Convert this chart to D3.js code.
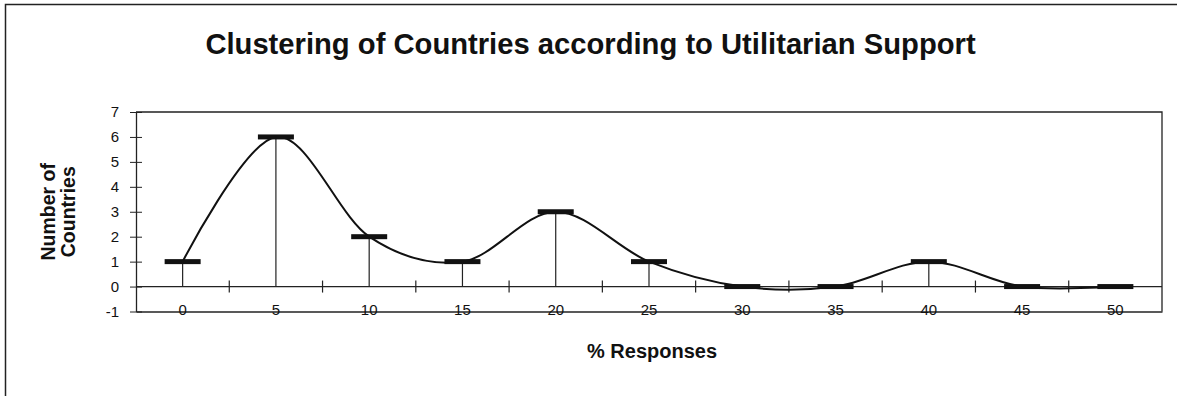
<!DOCTYPE html>
<html>
<head>
<meta charset="utf-8">
<script src="https://cdn.jsdelivr.net/npm/d3@7"></script>
<style>
  html, body { margin: 0; padding: 0; background: #fff; }
  svg { display: block; font-family: "Liberation Sans", Arial, Helvetica, sans-serif; }
</style>
</head>
<body>
<svg id="chart" width="1177" height="396"></svg>
<script>
// ---- data ----
const categories = ["0", "5", "10", "15", "20", "25", "30", "35", "40", "45", "50"];
const countries = [1, 6, 2, 1, 3, 1, 0, 0, 1, 0, 0];
const yTicks = [-1, 0, 1, 2, 3, 4, 5, 6, 7];
const titleText = "Clustering of Countries according to Utilitarian Support";
const yTitleLines = ["Number of", "Countries"];
const xTitleText = "% Responses";

// ---- layout ----
const plot = { left: 136, right: 1162, top: 112, bottom: 311.5 };
const ink = "#111";

const svg = d3.select("#chart");

// outer frame (extends beyond the picture on right/bottom)
svg.append("rect")
  .attr("x", 5.5).attr("y", 4.5)
  .attr("width", 1300).attr("height", 500)
  .attr("fill", "none").attr("stroke", "#222").attr("stroke-width", 1.5);

const x = d3.scaleBand().domain(categories).range([plot.left, plot.right]).padding(0);
const y = d3.scaleLinear().domain([-1, 7]).range([plot.bottom, plot.top]);
const cx = d => x(d) + x.bandwidth() / 2;

// plot box: top and right borders
svg.append("path")
  .attr("d", `M${plot.left},${plot.top}H${plot.right}V${plot.bottom}`)
  .attr("fill", "none").attr("stroke", "#222").attr("stroke-width", 1.3);

// y axis
const yAxis = d3.axisLeft(y).tickValues(yTicks).tickSizeInner(6).tickSizeOuter(0).tickPadding(11)
  .tickFormat(d => String(d));
const gy = svg.append("g").attr("transform", `translate(${plot.left},0)`).call(yAxis)
  .attr("font-size", 15).attr("font-family", "'Liberation Sans', Arial, sans-serif");
gy.select(".domain").attr("stroke", "#222").attr("stroke-width", 1.3);
gy.selectAll(".tick line").attr("x1", 6).attr("x2", -6).attr("stroke", "#222");
gy.selectAll(".tick text").attr("fill", ink);

// x axis at the bottom (y = -1) with labels
const xAxis = d3.axisBottom(x).tickSize(0).tickSizeOuter(0).tickPadding(-7.5);
const gx = svg.append("g").attr("transform", `translate(0,${plot.bottom})`).call(xAxis)
  .attr("font-size", 15).attr("font-family", "'Liberation Sans', Arial, sans-serif");
gx.select(".domain").attr("stroke", "#222").attr("stroke-width", 1.3);
gx.selectAll(".tick text").attr("fill", ink);

// zero line with crossing ticks at band boundaries
svg.append("line")
  .attr("x1", plot.left).attr("x2", plot.right)
  .attr("y1", y(0)).attr("y2", y(0))
  .attr("stroke", "#222").attr("stroke-width", 1.2);
svg.append("g").selectAll("line")
  .data(categories.slice(1))
  .join("line")
  .attr("x1", d => x(d)).attr("x2", d => x(d))
  .attr("y1", y(0) - 6).attr("y2", y(0) + 6)
  .attr("stroke", "#222").attr("stroke-width", 1.2);

const pts = categories.map((c, i) => ({ c, v: countries[i] }));

// drop lines
svg.append("g").selectAll("line")
  .data(pts.filter(p => p.v !== 0))
  .join("line")
  .attr("x1", p => cx(p.c)).attr("x2", p => cx(p.c))
  .attr("y1", y(0)).attr("y2", p => y(p.v))
  .attr("stroke", "#222").attr("stroke-width", 1.2);

// smoothed line
const line = d3.line().x(p => cx(p.c)).y(p => y(p.v)).curve(d3.curveCardinal.tension(0));
svg.append("path").datum(pts)
  .attr("d", line)
  .attr("fill", "none").attr("stroke", ink).attr("stroke-width", 2);

// thick horizontal markers
const barW = 36;
svg.append("g").selectAll("rect")
  .data(pts)
  .join("rect")
  .attr("x", p => cx(p.c) - barW / 2)
  .attr("y", p => y(p.v) - 2.5)
  .attr("width", barW).attr("height", 5)
  .attr("fill", ink);

// titles
svg.append("text")
  .attr("x", 590.5).attr("y", 54)
  .attr("text-anchor", "middle")
  .attr("font-size", 29.2).attr("font-weight", "bold").attr("fill", ink)
  .text(titleText);

const yt = svg.append("text")
  .attr("transform", `translate(55,${(plot.top + plot.bottom) / 2}) rotate(-90)`)
  .attr("text-anchor", "middle")
  .attr("font-size", 19.5).attr("font-weight", "bold").attr("fill", ink);
yt.selectAll("tspan").data(yTitleLines).join("tspan")
  .attr("x", 0).attr("dy", (d, i) => i === 0 ? 0 : "1.05em")
  .text(d => d);

svg.append("text")
  .attr("x", 652).attr("y", 358)
  .attr("text-anchor", "middle")
  .attr("font-size", 20).attr("font-weight", "bold").attr("fill", ink)
  .text(xTitleText);
</script>
</body>
</html>
